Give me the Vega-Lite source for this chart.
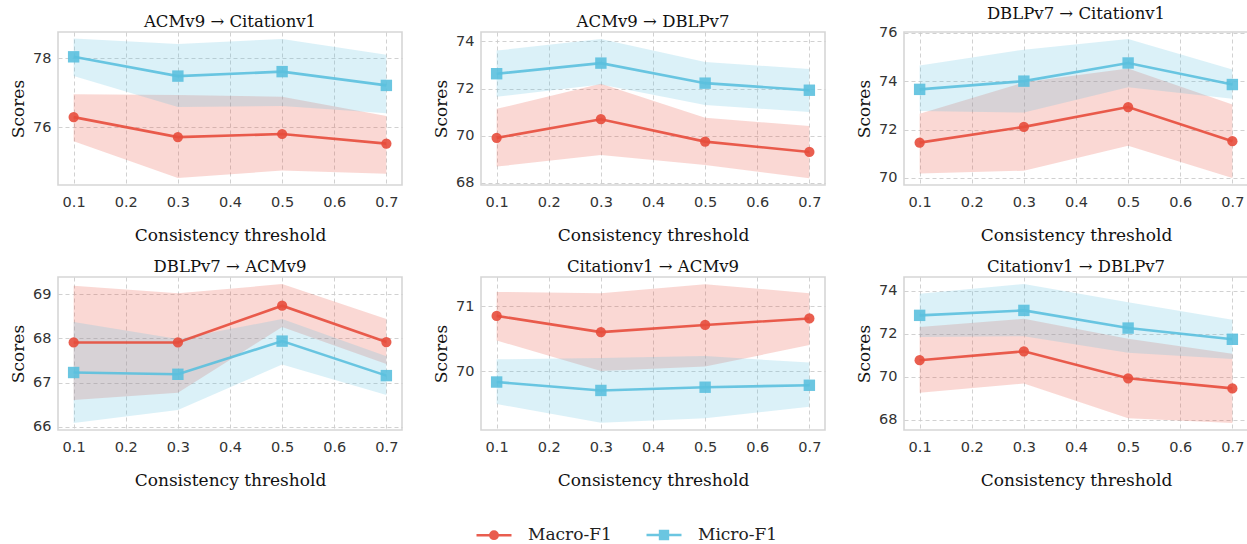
{
  "$schema": "https://vega.github.io/schema/vega-lite/v6.json",
  "background": "white",
  "padding": {"left": 8, "top": 5, "right": 0, "bottom": 0},
  "data": {"values": [
    {"panel": "P1", "metric": "Macro-F1", "t": 0.1, "m": 76.29, "lo": 75.59, "hi": 76.95},
    {"panel": "P1", "metric": "Macro-F1", "t": 0.3, "m": 75.71, "lo": 74.52, "hi": 76.93},
    {"panel": "P1", "metric": "Macro-F1", "t": 0.5, "m": 75.80, "lo": 74.74, "hi": 76.88},
    {"panel": "P1", "metric": "Macro-F1", "t": 0.7, "m": 75.52, "lo": 74.65, "hi": 76.32},
    {"panel": "P1", "metric": "Micro-F1", "t": 0.1, "m": 78.04, "lo": 77.48, "hi": 78.57},
    {"panel": "P1", "metric": "Micro-F1", "t": 0.3, "m": 77.48, "lo": 76.58, "hi": 78.41},
    {"panel": "P1", "metric": "Micro-F1", "t": 0.5, "m": 77.61, "lo": 76.61, "hi": 78.56},
    {"panel": "P1", "metric": "Micro-F1", "t": 0.7, "m": 77.21, "lo": 76.40, "hi": 78.10},
    {"panel": "P2", "metric": "Macro-F1", "t": 0.1, "m": 69.91, "lo": 68.69, "hi": 71.14},
    {"panel": "P2", "metric": "Macro-F1", "t": 0.3, "m": 70.70, "lo": 69.18, "hi": 72.20},
    {"panel": "P2", "metric": "Macro-F1", "t": 0.5, "m": 69.75, "lo": 68.76, "hi": 70.76},
    {"panel": "P2", "metric": "Macro-F1", "t": 0.7, "m": 69.31, "lo": 68.20, "hi": 70.41},
    {"panel": "P2", "metric": "Micro-F1", "t": 0.1, "m": 72.63, "lo": 71.65, "hi": 73.61},
    {"panel": "P2", "metric": "Micro-F1", "t": 0.3, "m": 73.08, "lo": 72.17, "hi": 74.10},
    {"panel": "P2", "metric": "Micro-F1", "t": 0.5, "m": 72.23, "lo": 71.30, "hi": 73.13},
    {"panel": "P2", "metric": "Micro-F1", "t": 0.7, "m": 71.93, "lo": 71.01, "hi": 72.83},
    {"panel": "P3", "metric": "Macro-F1", "t": 0.1, "m": 71.46, "lo": 70.19, "hi": 72.65},
    {"panel": "P3", "metric": "Macro-F1", "t": 0.3, "m": 72.11, "lo": 70.30, "hi": 73.95},
    {"panel": "P3", "metric": "Macro-F1", "t": 0.5, "m": 72.93, "lo": 71.33, "hi": 74.52},
    {"panel": "P3", "metric": "Macro-F1", "t": 0.7, "m": 71.52, "lo": 70.00, "hi": 73.04},
    {"panel": "P3", "metric": "Micro-F1", "t": 0.1, "m": 73.66, "lo": 72.77, "hi": 74.65},
    {"panel": "P3", "metric": "Micro-F1", "t": 0.3, "m": 74.00, "lo": 72.70, "hi": 75.30},
    {"panel": "P3", "metric": "Micro-F1", "t": 0.5, "m": 74.75, "lo": 73.75, "hi": 75.74},
    {"panel": "P3", "metric": "Micro-F1", "t": 0.7, "m": 73.86, "lo": 73.27, "hi": 74.48},
    {"panel": "P4", "metric": "Macro-F1", "t": 0.1, "m": 67.91, "lo": 66.61, "hi": 69.19},
    {"panel": "P4", "metric": "Macro-F1", "t": 0.3, "m": 67.91, "lo": 66.77, "hi": 69.02},
    {"panel": "P4", "metric": "Macro-F1", "t": 0.5, "m": 68.74, "lo": 68.26, "hi": 69.23},
    {"panel": "P4", "metric": "Macro-F1", "t": 0.7, "m": 67.92, "lo": 67.42, "hi": 68.44},
    {"panel": "P4", "metric": "Micro-F1", "t": 0.1, "m": 67.23, "lo": 66.09, "hi": 68.37},
    {"panel": "P4", "metric": "Micro-F1", "t": 0.3, "m": 67.19, "lo": 66.38, "hi": 67.99},
    {"panel": "P4", "metric": "Micro-F1", "t": 0.5, "m": 67.94, "lo": 67.41, "hi": 68.44},
    {"panel": "P4", "metric": "Micro-F1", "t": 0.7, "m": 67.16, "lo": 66.72, "hi": 67.60},
    {"panel": "P5", "metric": "Macro-F1", "t": 0.1, "m": 70.85, "lo": 70.47, "hi": 71.22},
    {"panel": "P5", "metric": "Macro-F1", "t": 0.3, "m": 70.60, "lo": 70.00, "hi": 71.20},
    {"panel": "P5", "metric": "Macro-F1", "t": 0.5, "m": 70.71, "lo": 70.07, "hi": 71.34},
    {"panel": "P5", "metric": "Macro-F1", "t": 0.7, "m": 70.81, "lo": 70.40, "hi": 71.20},
    {"panel": "P5", "metric": "Micro-F1", "t": 0.1, "m": 69.83, "lo": 69.49, "hi": 70.18},
    {"panel": "P5", "metric": "Micro-F1", "t": 0.3, "m": 69.70, "lo": 69.20, "hi": 70.20},
    {"panel": "P5", "metric": "Micro-F1", "t": 0.5, "m": 69.75, "lo": 69.27, "hi": 70.23},
    {"panel": "P5", "metric": "Micro-F1", "t": 0.7, "m": 69.78, "lo": 69.45, "hi": 70.13},
    {"panel": "P6", "metric": "Macro-F1", "t": 0.1, "m": 70.77, "lo": 69.26, "hi": 72.31},
    {"panel": "P6", "metric": "Macro-F1", "t": 0.3, "m": 71.18, "lo": 69.69, "hi": 72.69},
    {"panel": "P6", "metric": "Macro-F1", "t": 0.5, "m": 69.93, "lo": 68.08, "hi": 71.77},
    {"panel": "P6", "metric": "Macro-F1", "t": 0.7, "m": 69.46, "lo": 67.85, "hi": 71.07},
    {"panel": "P6", "metric": "Micro-F1", "t": 0.1, "m": 72.85, "lo": 71.85, "hi": 73.85},
    {"panel": "P6", "metric": "Micro-F1", "t": 0.3, "m": 73.08, "lo": 71.88, "hi": 74.31},
    {"panel": "P6", "metric": "Micro-F1", "t": 0.5, "m": 72.26, "lo": 71.12, "hi": 73.46},
    {"panel": "P6", "metric": "Micro-F1", "t": 0.7, "m": 71.74, "lo": 70.82, "hi": 72.65}
  ]},
  "config": {
    "font": "DejaVu Sans",
    "view": {"stroke": "#d6d6d6", "strokeWidth": 1.6},
    "title": {"font": "DejaVu Serif", "fontSize": 16.5, "fontWeight": "normal", "color": "#111111", "offset": 2, "frame": "group", "anchor": "middle"},
    "axis": {"grid": true, "gridDash": [4, 3], "gridColor": "#cccccc", "gridWidth": 0.9, "domain": false, "ticks": false,
             "labelFont": "DejaVu Sans", "labelFontSize": 14.5, "labelColor": "#333333", "labelPadding": 7,
             "titleFont": "DejaVu Serif", "titleFontSize": 17, "titleFontWeight": "normal", "titleColor": "#111111"},
    "axisX": {"titlePadding": 19, "labelPadding": 10},
    "axisY": {"titlePadding": 5},
    "legend": {"padding": 0, "offset": 0}
  },
  "spacing": 12,
  "vconcat": [
    {"spacing": 28, "hconcat": [
      {"title": "ACMv9 → Citationv1", "width": 344, "height": 153,
       "transform": [{"filter": "datum.panel === 'P1'"}],
       "encoding": {
         "x": {"field": "t", "type": "quantitative", "title": "Consistency threshold", "scale": {"domain": [0.07, 0.73], "nice": false, "zero": false}, "axis": {"values": [0.1, 0.2, 0.3, 0.4, 0.5, 0.6, 0.7], "format": ".1f"}}
       },
       "layer": [
         {"mark": {"type": "point", "filled": false, "opacity": 0.9, "clip": true, "strokeWidth": 2.5},
          "encoding": {
            "y": {"datum": 0, "type": "quantitative", "title": "Scores"},
            "color": {"field": "metric", "type": "nominal", "scale": {"domain": ["Macro-F1", "Micro-F1"], "range": ["#e74c3c", "#5bc0de"]},
              "legend": {"orient": "none", "legendX": 426, "legendY": 493, "direction": "horizontal", "title": null,
                "labelFont": "DejaVu Serif", "labelFontSize": 17, "labelColor": "#222222", "symbolSize": 306, "symbolStrokeWidth": 2.5,
                "symbolOpacity": 0.9, "labelOffset": 24, "columnPadding": 29}},
            "shape": {"field": "metric", "type": "nominal", "scale": {"domain": ["Macro-F1", "Micro-F1"], "range": ["M-2,0H2M-0.42,0A0.42,0.42 0 1,1 0.42,0A0.42,0.42 0 1,1 -0.42,0M-0.14,0A0.14,0.14 0 1,1 0.14,0A0.14,0.14 0 1,1 -0.14,0", "M-2,0H2M-0.45,-0.45H0.45V0.45H-0.45ZM-0.15,-0.15H0.15V0.15H-0.15Z"]}, "legend": null}
          }},
         {"mark": {"type": "area", "opacity": 0.22}, "encoding": {"color": {"field": "metric", "type": "nominal"}, "y": {"field": "lo", "type": "quantitative", "title": "Scores", "scale": {"domain": [74.32, 78.76], "nice": false, "zero": false}, "axis": {"values": [76, 78], "format": "d"}}, "y2": {"field": "hi"}}},
         {"mark": {"type": "line", "strokeWidth": 2.6, "opacity": 0.9}, "encoding": {"color": {"field": "metric", "type": "nominal"}, "y": {"field": "m", "type": "quantitative", "title": "Scores"}}},
         {"transform": [{"filter": "datum.metric === 'Macro-F1'"}], "mark": {"type": "point", "shape": "circle", "filled": true, "opacity": 0.9, "size": 105}, "encoding": {"color": {"field": "metric", "type": "nominal"}, "y": {"field": "m", "type": "quantitative", "title": "Scores"}}},
         {"transform": [{"filter": "datum.metric === 'Micro-F1'"}], "mark": {"type": "point", "shape": "square", "filled": true, "opacity": 0.9, "size": 130}, "encoding": {"color": {"field": "metric", "type": "nominal"}, "y": {"field": "m", "type": "quantitative", "title": "Scores"}}}
       ]},
      {"title": "ACMv9 → DBLPv7", "width": 344, "height": 153,
       "transform": [{"filter": "datum.panel === 'P2'"}],
       "encoding": {
         "x": {"field": "t", "type": "quantitative", "title": "Consistency threshold", "scale": {"domain": [0.07, 0.73], "nice": false, "zero": false}, "axis": {"values": [0.1, 0.2, 0.3, 0.4, 0.5, 0.6, 0.7], "format": ".1f"}},
         "color": {"field": "metric", "type": "nominal"}
       },
       "layer": [
         {"mark": {"type": "area", "opacity": 0.22}, "encoding": {"y": {"field": "lo", "type": "quantitative", "title": "Scores", "scale": {"domain": [67.91, 74.40], "nice": false, "zero": false}, "axis": {"values": [68, 70, 72, 74], "format": "d"}}, "y2": {"field": "hi"}}},
         {"mark": {"type": "line", "strokeWidth": 2.6, "opacity": 0.9}, "encoding": {"y": {"field": "m", "type": "quantitative", "title": "Scores"}}},
         {"transform": [{"filter": "datum.metric === 'Macro-F1'"}], "mark": {"type": "point", "shape": "circle", "filled": true, "opacity": 0.9, "size": 105}, "encoding": {"y": {"field": "m", "type": "quantitative", "title": "Scores"}}},
         {"transform": [{"filter": "datum.metric === 'Micro-F1'"}], "mark": {"type": "point", "shape": "square", "filled": true, "opacity": 0.9, "size": 130}, "encoding": {"y": {"field": "m", "type": "quantitative", "title": "Scores"}}}
       ]},
      {"title": "DBLPv7 → Citationv1", "width": 344, "height": 153,
       "transform": [{"filter": "datum.panel === 'P3'"}],
       "encoding": {
         "x": {"field": "t", "type": "quantitative", "title": "Consistency threshold", "scale": {"domain": [0.07, 0.73], "nice": false, "zero": false}, "axis": {"values": [0.1, 0.2, 0.3, 0.4, 0.5, 0.6, 0.7], "format": ".1f"}},
         "color": {"field": "metric", "type": "nominal"}
       },
       "layer": [
         {"mark": {"type": "area", "opacity": 0.22}, "encoding": {"y": {"field": "lo", "type": "quantitative", "title": "Scores", "scale": {"domain": [69.71, 76.03], "nice": false, "zero": false}, "axis": {"values": [70, 72, 74, 76], "format": "d"}}, "y2": {"field": "hi"}}},
         {"mark": {"type": "line", "strokeWidth": 2.6, "opacity": 0.9}, "encoding": {"y": {"field": "m", "type": "quantitative", "title": "Scores"}}},
         {"transform": [{"filter": "datum.metric === 'Macro-F1'"}], "mark": {"type": "point", "shape": "circle", "filled": true, "opacity": 0.9, "size": 105}, "encoding": {"y": {"field": "m", "type": "quantitative", "title": "Scores"}}},
         {"transform": [{"filter": "datum.metric === 'Micro-F1'"}], "mark": {"type": "point", "shape": "square", "filled": true, "opacity": 0.9, "size": 130}, "encoding": {"y": {"field": "m", "type": "quantitative", "title": "Scores"}}}
       ]}
    ]},
    {"spacing": 28, "hconcat": [
      {"title": "DBLPv7 → ACMv9", "width": 344, "height": 153,
       "transform": [{"filter": "datum.panel === 'P4'"}],
       "encoding": {
         "x": {"field": "t", "type": "quantitative", "title": "Consistency threshold", "scale": {"domain": [0.07, 0.73], "nice": false, "zero": false}, "axis": {"values": [0.1, 0.2, 0.3, 0.4, 0.5, 0.6, 0.7], "format": ".1f"}},
         "color": {"field": "metric", "type": "nominal"}
       },
       "layer": [
         {"mark": {"type": "area", "opacity": 0.22}, "encoding": {"y": {"field": "lo", "type": "quantitative", "title": "Scores", "scale": {"domain": [65.93, 69.39], "nice": false, "zero": false}, "axis": {"values": [66, 67, 68, 69], "format": "d"}}, "y2": {"field": "hi"}}},
         {"mark": {"type": "line", "strokeWidth": 2.6, "opacity": 0.9}, "encoding": {"y": {"field": "m", "type": "quantitative", "title": "Scores"}}},
         {"transform": [{"filter": "datum.metric === 'Macro-F1'"}], "mark": {"type": "point", "shape": "circle", "filled": true, "opacity": 0.9, "size": 105}, "encoding": {"y": {"field": "m", "type": "quantitative", "title": "Scores"}}},
         {"transform": [{"filter": "datum.metric === 'Micro-F1'"}], "mark": {"type": "point", "shape": "square", "filled": true, "opacity": 0.9, "size": 130}, "encoding": {"y": {"field": "m", "type": "quantitative", "title": "Scores"}}}
       ]},
      {"title": "Citationv1 → ACMv9", "width": 344, "height": 153,
       "transform": [{"filter": "datum.panel === 'P5'"}],
       "encoding": {
         "x": {"field": "t", "type": "quantitative", "title": "Consistency threshold", "scale": {"domain": [0.07, 0.73], "nice": false, "zero": false}, "axis": {"values": [0.1, 0.2, 0.3, 0.4, 0.5, 0.6, 0.7], "format": ".1f"}},
         "color": {"field": "metric", "type": "nominal"}
       },
       "layer": [
         {"mark": {"type": "area", "opacity": 0.22}, "encoding": {"y": {"field": "lo", "type": "quantitative", "title": "Scores", "scale": {"domain": [69.09, 71.45], "nice": false, "zero": false}, "axis": {"values": [70, 71], "format": "d"}}, "y2": {"field": "hi"}}},
         {"mark": {"type": "line", "strokeWidth": 2.6, "opacity": 0.9}, "encoding": {"y": {"field": "m", "type": "quantitative", "title": "Scores"}}},
         {"transform": [{"filter": "datum.metric === 'Macro-F1'"}], "mark": {"type": "point", "shape": "circle", "filled": true, "opacity": 0.9, "size": 105}, "encoding": {"y": {"field": "m", "type": "quantitative", "title": "Scores"}}},
         {"transform": [{"filter": "datum.metric === 'Micro-F1'"}], "mark": {"type": "point", "shape": "square", "filled": true, "opacity": 0.9, "size": 130}, "encoding": {"y": {"field": "m", "type": "quantitative", "title": "Scores"}}}
       ]},
      {"title": "Citationv1 → DBLPv7", "width": 344, "height": 153,
       "transform": [{"filter": "datum.panel === 'P6'"}],
       "encoding": {
         "x": {"field": "t", "type": "quantitative", "title": "Consistency threshold", "scale": {"domain": [0.07, 0.73], "nice": false, "zero": false}, "axis": {"values": [0.1, 0.2, 0.3, 0.4, 0.5, 0.6, 0.7], "format": ".1f"}},
         "color": {"field": "metric", "type": "nominal"}
       },
       "layer": [
         {"mark": {"type": "area", "opacity": 0.22}, "encoding": {"y": {"field": "lo", "type": "quantitative", "title": "Scores", "scale": {"domain": [67.53, 74.63], "nice": false, "zero": false}, "axis": {"values": [68, 70, 72, 74], "format": "d"}}, "y2": {"field": "hi"}}},
         {"mark": {"type": "line", "strokeWidth": 2.6, "opacity": 0.9}, "encoding": {"y": {"field": "m", "type": "quantitative", "title": "Scores"}}},
         {"transform": [{"filter": "datum.metric === 'Macro-F1'"}], "mark": {"type": "point", "shape": "circle", "filled": true, "opacity": 0.9, "size": 105}, "encoding": {"y": {"field": "m", "type": "quantitative", "title": "Scores"}}},
         {"transform": [{"filter": "datum.metric === 'Micro-F1'"}], "mark": {"type": "point", "shape": "square", "filled": true, "opacity": 0.9, "size": 130}, "encoding": {"y": {"field": "m", "type": "quantitative", "title": "Scores"}}}
       ]}
    ]}
  ]
}
